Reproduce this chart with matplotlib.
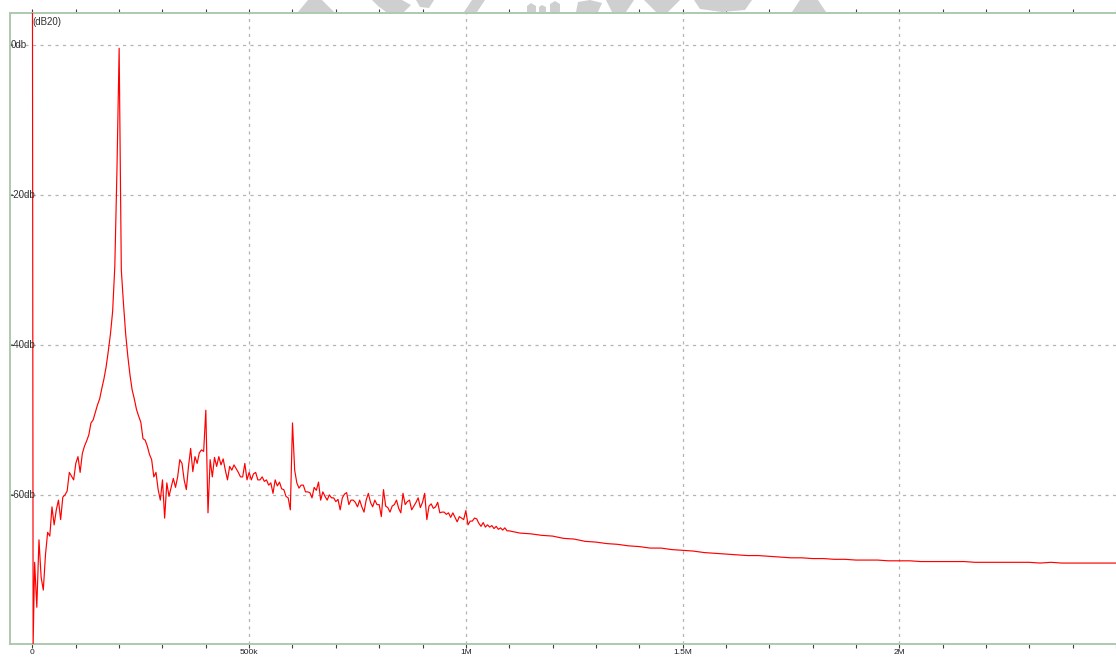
import numpy as np
import matplotlib
matplotlib.use("Agg")
import matplotlib.pyplot as plt
from matplotlib.ticker import MultipleLocator, FixedLocator
from matplotlib.patches import Polygon
import matplotlib.transforms as mtransforms

# Spectrum of the switching signal (magnitude in dB20)
# DC bin and the first sample just above it
dc_freq_khz = [0.0, 1.5]
dc_level_db = [6.0, -80.0]

# 5 kHz bins from 5 kHz to 1095 kHz
fine_freq_khz = np.arange(5, 1100, 5)
fine_level_db = [
    -69, -75, -66, -71, -72.7, -68, -65, -65.5, -61.6, -64,
    -62, -60.7, -63.3, -60.3, -60, -59.5, -57, -57.5, -58, -55.8,
    -54.9, -57, -54.5, -53.5, -52.8, -52, -50.4, -50, -49, -48,
    -47.2, -45.8, -44.5, -42.9, -40.8, -38.5, -35.5, -29.5, -16.5, -0.4,
    -30, -34.5, -38.5, -41.5, -44, -46, -47.2, -48.6, -49.5, -50.3,
    -52.5, -52.7, -53.5, -54.6, -55.3, -57.6, -57, -59.3, -60.7, -58,
    -63.1, -58.4, -60.2, -59, -57.8, -59, -57.6, -55.3, -55.8, -58,
    -59.3, -56.2, -53.8, -56.9, -54.9, -55.8, -54.4, -54, -54.2, -48.7,
    -62.4, -55.3, -57.6, -55, -56.2, -54.9, -56, -55.2, -56.7, -58,
    -56.2, -56.7, -56, -56.5, -57, -57.6, -57.6, -55.8, -58, -57,
    -58, -57.2, -57, -58, -58, -57.6, -58.2, -58, -58.7, -58.4,
    -59.8, -58, -58.8, -58.3, -59.2, -59.3, -60.2, -60.4, -62, -50.4,
    -56.7, -58.4, -59.1, -58.7, -58.7, -59.6, -59.6, -59.7, -60.4, -59,
    -59.4, -58.3, -60.7, -59.6, -60.2, -60.7, -60, -60.4, -60.4, -60.9,
    -60.6, -62, -60.4, -59.9, -59.7, -61.3, -60.7, -60.7, -61, -61.6,
    -60.7, -61.6, -62.3, -60.7, -59.8, -61, -61.6, -60.7, -61.3, -61.3,
    -62.9, -59.3, -61.5, -61.7, -62.3, -61.5, -61.3, -60.7, -61.8, -62.4,
    -59.8, -61.3, -60.9, -60.7, -62, -61.5, -61, -60.4, -61.7, -61,
    -59.8, -63.3, -61.5, -61.2, -61.8, -61.6, -61, -62.4, -62.3, -62.3,
    -62.6, -62.4, -63, -62.4, -63, -63.6, -62.9, -63.1, -63.3, -62.1,
    -64, -63.5, -63.5, -63.1, -63.2, -63.8, -64.2, -63.7, -64.3, -64,
    -64.3, -64.1, -64.5, -64.2, -64.6, -64.4, -64.7, -64.4, -64.8,
]

# 25 kHz bins from 1.1 MHz to 2.5 MHz
tail_freq_khz = np.arange(1100, 2501, 25)
tail_level_db = [
    -64.8, -65.1, -65.2, -65.4, -65.5, -65.8, -65.9, -66.2, -66.3, -66.5,
    -66.6, -66.8, -66.9, -67.1, -67.1, -67.3, -67.4, -67.5, -67.7, -67.8,
    -67.9, -68.0, -68.1, -68.1, -68.2, -68.3, -68.4, -68.4, -68.5, -68.5,
    -68.6, -68.6, -68.7, -68.7, -68.7, -68.8, -68.8, -68.8, -68.9, -68.9,
    -68.9, -68.9, -68.9, -69.0, -69.0, -69.0, -69.0, -69.0, -69.0, -69.1,
    -69.0, -69.1, -69.1, -69.1, -69.1, -69.1, -69.1,
]

y_ticks = [0, -20, -40, -60]
y_tick_labels = ["0db", "-20db", "-40db", "-60db"]
x_ticks = [0, 500e3, 1e6, 1.5e6, 2e6]
x_tick_labels = ["0", "500k", "1M", "1.5M", "2M"]

freq_hz = np.concatenate([dc_freq_khz, fine_freq_khz, tail_freq_khz]) * 1e3
level_db = np.concatenate([dc_level_db, fine_level_db, tail_level_db])

plt.rcParams["font.family"] = ["Liberation Sans", "DejaVu Sans"]

W, H = 1116, 657
fig = plt.figure(figsize=(W / 100, H / 100), dpi=100)
fig.patch.set_facecolor("white")

# faint logo strip above the plot frame (figure pixel coordinates, y from top)
logo_shapes = [
    [(308, 0), (322, 0), (334, 12), (298, 12)],
    [(372, 0), (402, 0), (411, 5), (404, 12), (386, 12), (378, 6)],
    [(416, 0), (434, 0), (429, 8), (420, 7)],
    [(472, 0), (485, 0), (477, 12), (464, 12)],
    [(527, 12), (527, 6), (531, 3), (536, 6), (536, 12)],
    [(539, 12), (539, 7), (542, 5), (546, 7), (546, 12)],
    [(550, 12), (550, 4), (555, 1), (560, 4), (560, 12)],
    [(576, 12), (578, 2), (590, 0), (602, 3), (598, 12)],
    [(606, 0), (634, 0), (626, 12), (612, 12)],
    [(644, 0), (680, 0), (668, 12), (656, 12)],
    [(694, 0), (752, 0), (745, 10), (722, 12), (700, 9)],
    [(800, 0), (818, 0), (826, 12), (792, 12)],
]
for pts in logo_shapes:
    fig.patches.append(Polygon([(x / W, 1 - y / H) for x, y in pts], closed=True,
                               transform=fig.transFigure, facecolor="#cfcfcf",
                               edgecolor="none", zorder=0))

left_px, right_px, top_px, bottom_px = 9.5, 1117, 13, 644
ax = fig.add_axes([left_px / W, 1 - bottom_px / H,
                   (right_px - left_px) / W, (bottom_px - top_px) / H])

ax.plot(freq_hz, level_db, color="#ff0000", linewidth=0.85, zorder=3)

ax.set_xlim(-53e3, 2.5025e6)
ax.set_ylim(-79.9, 4.3)

# frame
for side in ax.spines.values():
    side.set_color("#adc9ad")
    side.set_linewidth(1.4)

# grid
grid_kw = dict(color="#b4b4b4", linewidth=0.9, linestyle=(0, (2.5, 3.5)), zorder=1)
for yv in y_ticks:
    ax.axhline(yv, **grid_kw)
for xv in x_ticks[1:]:
    ax.axvline(xv, **grid_kw)

# x ticks: minor every 100 kHz on top and bottom, labels below
ax.xaxis.set_major_locator(FixedLocator(x_ticks))
ax.xaxis.set_minor_locator(MultipleLocator(100e3))
ax.set_xticklabels(x_tick_labels)
ax.tick_params(axis="x", which="both", direction="out", length=3, width=0.8,
               color="#404040", top=True, bottom=True, labelsize=6,
               labelcolor="#202020", pad=0.8)

# y ticks: short marks on the frame, labels drawn inside the plot
ax.set_yticks(y_ticks)
ax.set_yticklabels([])
ax.tick_params(axis="y", which="both", direction="in", length=2.5, width=1.2,
               color="#7d93ad", left=True, right=False)

trans = mtransforms.blended_transform_factory(ax.transAxes, ax.transData)
for yv, lab in zip(y_ticks, y_tick_labels):
    ax.text(0.0012, yv, lab, transform=trans, ha="left", va="center",
            fontsize=7, color="#303030", zorder=4)

ax.text(0.0, 0.994, "(dB20)",
        transform=mtransforms.blended_transform_factory(ax.transData, ax.transAxes),
        ha="left", va="top", fontsize=7, color="#303030")

fig.savefig("out.png", dpi=100, facecolor="white")
